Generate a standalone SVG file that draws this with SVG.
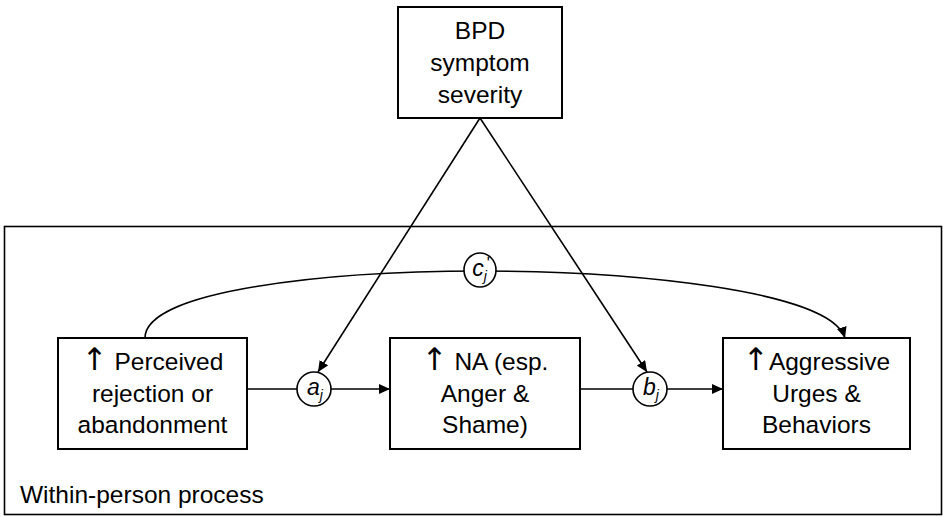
<svg xmlns="http://www.w3.org/2000/svg" width="943" height="517" viewBox="0 0 943 517">
<defs>
<marker id="ah" markerUnits="userSpaceOnUse" markerWidth="12" markerHeight="10" refX="11" refY="5" orient="auto">
<path d="M0,0 L11,5 L0,10 Z" fill="#000"/>
</marker>
<style>
.box{fill:#fff;stroke:#000;stroke-width:2}
.frame{fill:none;stroke:#000;stroke-width:1.6}
.ln{fill:none;stroke:#000;stroke-width:1.6}
.circ{fill:#fff;stroke:#000;stroke-width:1.6}
.t{font-family:"Liberation Sans",Arial,sans-serif;font-size:24.5px;fill:#000;text-anchor:middle}
.ar{font-family:"DejaVu Sans",sans-serif;font-size:31px;fill:#000}
.lbl{font-family:"Liberation Sans",Arial,sans-serif;font-size:23px;font-style:italic;fill:#000;text-anchor:middle}
.sub{font-size:14px}
</style>
</defs>
<rect class="frame" x="4.5" y="226.5" width="937" height="288"/>
<text class="t" x="20" y="503" style="text-anchor:start">Within-person process</text>
<g id="connectors">
<path class="ln" d="M145,338 C145,290 330,271 480,271 C630,271 830,290 845,338" marker-end="url(#ah)"/>
<line class="ln" x1="480" y1="118" x2="318" y2="372" marker-end="url(#ah)"/>
<line class="ln" x1="480" y1="118" x2="647" y2="372" marker-end="url(#ah)"/>
<line class="ln" x1="247" y1="389" x2="297" y2="389"/>
<line class="ln" x1="331" y1="389" x2="390" y2="389" marker-end="url(#ah)"/>
<line class="ln" x1="580" y1="389" x2="633" y2="389"/>
<line class="ln" x1="667" y1="389" x2="723" y2="389" marker-end="url(#ah)"/>
</g>
<g id="bpd">
<rect class="box" x="398" y="7" width="164" height="111"/>
<text class="t" x="480" y="39">BPD</text>
<text class="t" x="480" y="71">symptom</text>
<text class="t" x="480" y="103">severity</text>
</g>
<g id="rejection">
<rect class="box" x="58" y="338" width="189" height="111"/>
<text class="t" x="152.5" y="370"><tspan class="ar">↑</tspan> Perceived</text>
<text class="t" x="152.5" y="402">rejection or</text>
<text class="t" x="152.5" y="433">abandonment</text>
</g>
<g id="na">
<rect class="box" x="390" y="338" width="190" height="111"/>
<text class="t" x="485" y="370"><tspan class="ar">↑</tspan> NA (esp.</text>
<text class="t" x="485" y="402">Anger &amp;</text>
<text class="t" x="485" y="433">Shame)</text>
</g>
<g id="aggressive">
<rect class="box" x="723" y="338" width="187" height="111"/>
<text class="t" x="816.5" y="370"><tspan class="ar">↑</tspan>Aggressive</text>
<text class="t" x="816.5" y="402">Urges &amp;</text>
<text class="t" x="816.5" y="433">Behaviors</text>
</g>
<g id="aj">
<ellipse class="circ" cx="314" cy="389" rx="17" ry="17"/>
<text class="lbl" x="315" y="395">a<tspan class="sub" dy="5">j</tspan></text>
</g>
<g id="bj">
<ellipse class="circ" cx="650" cy="389" rx="17" ry="17"/>
<text class="lbl" x="651" y="395">b<tspan class="sub" dy="5">j</tspan></text>
</g>
<g id="cj">
<ellipse class="circ" cx="480" cy="270" rx="16" ry="17"/>
<text class="lbl" x="481" y="276">c<tspan class="sub" dy="5">j</tspan><tspan dy="-12" font-style="normal" font-size="16">'</tspan></text>
</g>
</svg>
